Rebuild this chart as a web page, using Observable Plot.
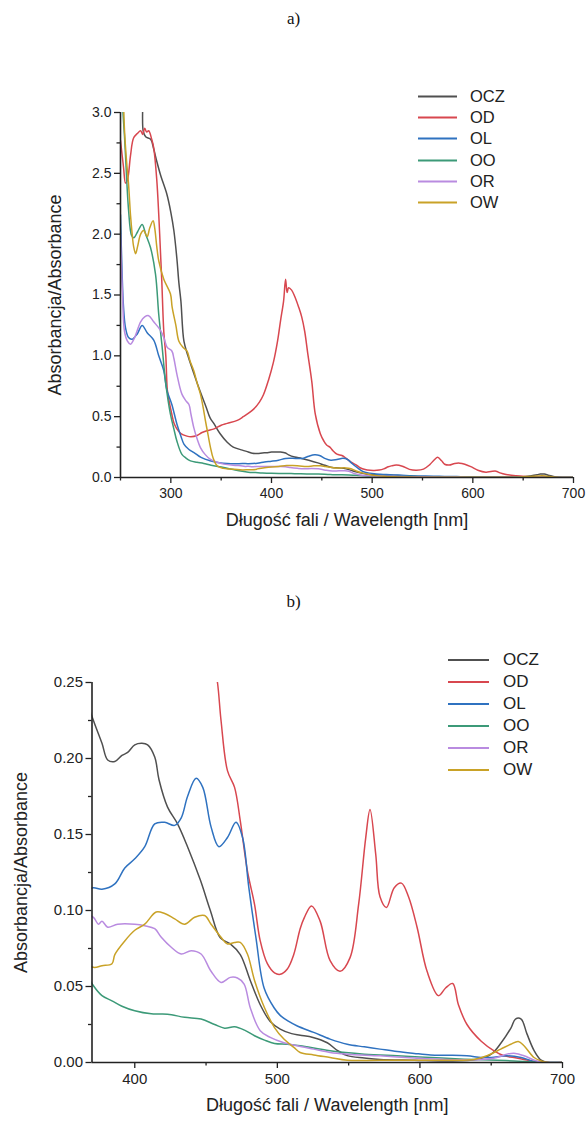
<!DOCTYPE html>
<html>
<head>
<meta charset="utf-8">
<script src="https://cdn.jsdelivr.net/npm/d3@7"></script>
<script src="https://cdn.jsdelivr.net/npm/@observablehq/plot@0.6"></script>
<style>
  html, body { margin: 0; padding: 0; background: #fff; }
  #wrap { position: relative; width: 587px; height: 1129px; overflow: hidden; font-family: "Liberation Sans", Arial, sans-serif; color: #222; }
  .panel { position: absolute; left: 0; }
  .ptitle { position: absolute; left: 0; width: 587px; text-align: center; font-family: "Liberation Serif", "Times New Roman", serif; font-size: 17px; color: #111; }
  .legend { position: absolute; }
  .legend .row { display: flex; align-items: center; position: absolute; left: 0; white-space: nowrap; }
  .legend svg { display: block; }
</style>
</head>
<body>
<div id="wrap"></div>
<script>
// ---------------- DATA ----------------
const seriesNames = ["OCZ", "OD", "OL", "OO", "OR", "OW"];
const seriesColors = ["#505050", "#d8474f", "#2f72c0", "#3c9a78", "#b98be0", "#c9a227"];

const wlOCZ = [250, 265, 271, 272.5, 275, 280, 283, 286, 290, 296, 300, 303, 306, 308, 310, 313, 317, 321, 329, 335, 339, 343, 349, 356, 362, 371, 377, 381, 386, 391, 395, 400, 405, 409, 414, 417, 423, 430, 437, 446, 453, 460, 467, 474, 481, 488, 495, 502, 510, 516, 525, 535, 542, 549, 561, 572, 596, 619, 640, 650, 657, 664, 667, 671, 675, 680, 685, 690, 700];
const absOCZ = [3.4, 3.4, 3.3, 2.85, 2.8, 2.78, 2.7, 2.6, 2.48, 2.33, 2.18, 2.03, 1.8, 1.6, 1.45, 1.12, 1.0, 0.9, 0.71, 0.58, 0.49, 0.44, 0.36, 0.29, 0.25, 0.225, 0.21, 0.199, 0.198, 0.202, 0.204, 0.209, 0.21, 0.209, 0.201, 0.186, 0.168, 0.157, 0.142, 0.12, 0.1, 0.082, 0.078, 0.071, 0.054, 0.038, 0.027, 0.022, 0.019, 0.018, 0.0165, 0.013, 0.008, 0.0045, 0.003, 0.002, 0.0015, 0.001, 0.002, 0.0055, 0.013, 0.023, 0.0286, 0.0286, 0.019, 0.008, 0.0015, 0, 0];

const wlOD = [250, 253, 255, 257, 260, 263, 267, 270, 272, 274, 276, 278, 281, 283, 286, 288, 290, 291, 293, 295, 296.5, 298, 301, 303, 306, 310, 316, 320, 326, 331, 336, 343, 350, 356, 366, 372, 382, 388, 392, 397, 402, 406, 409, 412, 414, 415.5, 417, 420, 423, 427, 430, 433, 436, 440, 443.5, 448.5, 452, 455, 458, 460.5, 465, 470, 474, 479, 484, 488, 493, 498, 502, 507, 511.5, 516, 519, 524, 530, 537, 544, 551, 557, 562, 565, 569, 572, 576.5, 582, 587, 592, 598, 605, 613, 618, 623, 627, 633, 643, 652, 659, 666, 678, 690, 700];
const absOD = [2.77, 2.55, 2.42, 2.45, 2.65, 2.79, 2.83, 2.85, 2.82, 2.87, 2.84, 2.85, 2.78, 2.71, 2.45, 2.16, 1.8, 1.62, 1.2, 1.0, 0.72, 0.64, 0.52, 0.45, 0.4, 0.36, 0.34, 0.335, 0.345, 0.37, 0.385, 0.4, 0.43, 0.445, 0.47, 0.5, 0.56, 0.62, 0.68, 0.8, 0.95, 1.12, 1.29, 1.45, 1.63, 1.52, 1.56, 1.54, 1.49, 1.4, 1.32, 1.2, 1.02, 0.79, 0.52, 0.36, 0.3, 0.265, 0.25, 0.225, 0.192, 0.181, 0.159, 0.126, 0.104, 0.08, 0.065, 0.059, 0.058, 0.0615, 0.071, 0.088, 0.0955, 0.103, 0.093, 0.067, 0.06, 0.069, 0.104, 0.148, 0.1665, 0.137, 0.109, 0.102, 0.115, 0.118, 0.109, 0.089, 0.06, 0.044, 0.049, 0.052, 0.038, 0.025, 0.014, 0.0077, 0.0044, 0.0033, 0.001, 0, 0];

const wlOL = [250, 251.5, 253, 255, 258, 261.6, 266.6, 271.5, 276.5, 283, 288, 293, 296, 301, 306, 310, 313, 318, 323, 330, 339, 348, 356, 364, 371, 377, 386, 393, 400, 407, 414, 421, 428, 432.6, 437, 443, 447.7, 453.5, 459, 465, 471, 475.6, 480, 485, 490.7, 497.7, 502, 508, 514, 525.5, 537, 549, 561, 572, 584, 596, 607.5, 619, 633, 643, 650, 661, 671, 680, 690, 700];
const absOL = [2.16, 1.7, 1.4, 1.23, 1.15, 1.137, 1.18, 1.25, 1.19, 1.13, 1.0, 0.877, 0.72, 0.6, 0.44, 0.34, 0.275, 0.23, 0.205, 0.165, 0.137, 0.122, 0.115, 0.113, 0.115, 0.114, 0.1175, 0.128, 0.134, 0.142, 0.157, 0.158, 0.156, 0.161, 0.175, 0.187, 0.181, 0.155, 0.142, 0.148, 0.158, 0.148, 0.115, 0.082, 0.049, 0.036, 0.031, 0.027, 0.024, 0.0198, 0.0154, 0.012, 0.0103, 0.0088, 0.0072, 0.006, 0.005, 0.0048, 0.0044, 0.0033, 0.0033, 0.0044, 0.0033, 0.0007, 0, 0];

const wlOO = [250, 254, 258, 261, 263.2, 267, 271.5, 275, 279.8, 284.8, 288, 291.4, 294.7, 299.6, 303, 306, 311, 315, 319.5, 326, 332.7, 340, 352.6, 362, 371, 377, 384, 391, 400, 411.6, 423, 435, 446.5, 456, 463, 470, 477, 484, 491, 498, 507, 516, 537, 561, 584, 607.5, 631, 654, 666, 690, 700];
const absOO = [3.3, 2.8, 2.2, 1.99, 1.97, 2.02, 2.08, 2.0, 1.89, 1.67, 1.34, 1.07, 0.79, 0.52, 0.4, 0.3, 0.19, 0.16, 0.137, 0.125, 0.115, 0.1, 0.082, 0.065, 0.0505, 0.044, 0.0406, 0.037, 0.034, 0.032, 0.0318, 0.0297, 0.0286, 0.025, 0.0226, 0.0235, 0.0213, 0.0176, 0.0147, 0.0125, 0.012, 0.011, 0.0077, 0.0055, 0.0044, 0.0033, 0.0022, 0.0015, 0.001, 0, 0];

const wlOR = [250, 252, 254, 257, 260, 264, 270, 274, 278, 283, 289.7, 293, 296.4, 301, 303, 306, 311, 315, 318, 320, 322.8, 326, 329.4, 334, 339, 346, 352.6, 362, 371, 374.5, 377, 381, 388, 400, 407, 414, 418.6, 425.6, 432.6, 439.5, 446.5, 453.5, 460.5, 467, 472, 476.7, 481, 488, 495, 504.6, 514, 525.5, 537, 549, 572, 596, 619, 643, 654, 661, 667, 673, 682, 690, 700];
const absOR = [2.0, 1.5, 1.2, 1.12, 1.096, 1.15, 1.28, 1.32, 1.33, 1.28, 1.21, 1.15, 1.07, 1.04, 0.98, 0.85, 0.685, 0.63, 0.6, 0.52, 0.41, 0.32, 0.246, 0.19, 0.151, 0.125, 0.11, 0.1, 0.0955, 0.091, 0.093, 0.089, 0.091, 0.091, 0.09, 0.088, 0.0824, 0.0758, 0.0714, 0.0736, 0.0714, 0.06, 0.0527, 0.056, 0.0556, 0.0516, 0.036, 0.0209, 0.0165, 0.013, 0.011, 0.0088, 0.0066, 0.0055, 0.0044, 0.003, 0.002, 0.002, 0.0033, 0.0055, 0.006, 0.0044, 0.001, 0, 0];

const wlOW = [250, 252, 254, 256, 258, 260, 261.6, 263, 265, 267, 270, 273, 276.5, 279, 282.4, 284, 286, 288, 293, 299.6, 301.3, 305, 308, 312, 316, 319, 322.8, 326, 329.4, 332, 334.4, 337, 339.4, 342, 346, 352, 359, 371, 377, 384, 386, 393, 400, 407, 415, 421, 428, 435, 442, 449, 453.5, 460.5, 465, 470, 474, 479, 484, 491, 498, 504.6, 511.6, 516, 525.5, 537, 549, 572, 619, 638, 647, 656.7, 663.7, 669, 673, 680, 685, 690, 700];
const absOW = [3.5, 3.3, 2.85, 2.6, 2.41, 2.15, 2.0, 1.9, 1.84, 1.9, 2.0, 2.03, 1.98, 2.05, 2.11, 2.05, 1.9, 1.78, 1.63, 1.51, 1.4, 1.25, 1.12, 1.07, 1.04, 0.96, 0.877, 0.78, 0.685, 0.58, 0.466, 0.35, 0.246, 0.16, 0.096, 0.075, 0.069, 0.0626, 0.0637, 0.065, 0.071, 0.08, 0.087, 0.091, 0.099, 0.098, 0.0945, 0.091, 0.0956, 0.0967, 0.091, 0.0824, 0.078, 0.079, 0.079, 0.0714, 0.054, 0.036, 0.023, 0.0154, 0.0099, 0.0066, 0.005, 0.0033, 0.0015, 0.0015, 0.0015, 0.002, 0.0044, 0.0088, 0.012, 0.0138, 0.011, 0.0033, 0.001, 0, 0];

// axes / tick labels
const xDomainA = [250, 700];
const yDomainA = [0, 3];
const xMajorA = [300, 400, 500, 600, 700];
const xMinorA = [250, 350, 450, 550, 650];
const yMajorA = [0, 0.5, 1.0, 1.5, 2.0, 2.5, 3.0];
const yMinorA = [0.25, 0.75, 1.25, 1.75, 2.25, 2.75];

const xDomainB = [370, 700];
const yDomainB = [0, 0.25];
const xMajorB = [400, 500, 600, 700];
const xMinorB = [450, 550, 650];
const yMajorB = [0, 0.05, 0.10, 0.15, 0.20, 0.25];
const yMinorB = [0.025, 0.075, 0.125, 0.175, 0.225];

const xTitle = "Długość fali / Wavelength [nm]";
const yTitle = "Absorbancja/Absorbance";
const panelTitles = ["a)", "b)"];

// ---------------- BUILD ----------------
const seriesData = {
  OCZ: [wlOCZ, absOCZ], OD: [wlOD, absOD], OL: [wlOL, absOL],
  OO: [wlOO, absOO], OR: [wlOR, absOR], OW: [wlOW, absOW]
};
const rows = seriesNames.flatMap(name => {
  const [wl, ab] = seriesData[name];
  return wl.map((w, i) => ({ series: name, wl: w, abs: ab[i] }));
});

const FONT = "Liberation Sans, Arial, sans-serif";

function makePanel(o) {
  return Plot.plot({
    width: 587,
    height: o.height,
    marginLeft: o.ml, marginRight: o.mr, marginTop: o.mt, marginBottom: o.mb,
    x: { domain: o.xDomain },
    y: { domain: o.yDomain },
    color: { domain: seriesNames, range: seriesColors },
    style: { fontFamily: FONT, fontSize: o.tickFont + "px", color: "#222", background: "transparent", overflow: "visible" },
    marks: [
      Plot.line(rows, { x: "wl", y: "abs", z: "series", stroke: "series", strokeWidth: 1.5, curve: "catmull-rom", clip: true }),
      Plot.axisX({ ticks: o.xMajor, tickSize: 6, tickPadding: 5, tickFormat: d3.format("d"), label: null, fontSize: o.tickFont, strokeWidth: 1.3 }),
      Plot.axisX({ ticks: o.xMinor, tickSize: 3.5, text: null, label: null, strokeWidth: 1.3 }),
      Plot.axisY({ ticks: o.yMajor, tickSize: 6, tickPadding: 3, tickFormat: d3.format(o.yFmt), label: null, fontSize: o.tickFont, strokeWidth: 1.3 }),
      Plot.axisY({ ticks: o.yMinor, tickSize: 3.5, text: null, label: null, strokeWidth: 1.3 }),
      Plot.ruleX([o.xDomain[0]], { stroke: "#222", strokeWidth: 1.6 }),
      Plot.ruleY([o.yDomain[0]], { stroke: "#222", strokeWidth: 1.6 }),
      Plot.text([xTitle], { text: d => d, frameAnchor: "bottom", textAnchor: "middle", dy: o.xTitleDy, fontSize: o.titleFont, fill: "#222" }),
      Plot.text([yTitle], { text: d => d, frameAnchor: "left", textAnchor: "middle", dx: o.yTitleDx, rotate: -90, fontSize: o.titleFont, fill: "#222" })
    ]
  });
}

function makeLegend(o) {
  const lg = document.createElement("div");
  lg.className = "legend";
  lg.style.left = o.left + "px";
  lg.style.top = o.top + "px";
  seriesNames.forEach((name, i) => {
    const row = document.createElement("div");
    row.className = "row";
    row.style.top = (i * o.step) + "px";
    row.style.height = o.step + "px";
    row.innerHTML = `<svg width="${o.lineW}" height="${o.step}"><line x1="0" x2="${o.lineW}" y1="${o.step / 2}" y2="${o.step / 2}" stroke="${seriesColors[i]}" stroke-width="2"/></svg>` +
      `<span style="margin-left:${o.gap}px;font-size:${o.font}px;color:#222;line-height:${o.step}px">${name}</span>`;
    lg.appendChild(row);
  });
  return lg;
}

const wrap = document.getElementById("wrap");

// Panel a
const tA = document.createElement("div");
tA.className = "ptitle"; tA.style.top = "9px"; tA.textContent = panelTitles[0];
wrap.appendChild(tA);
const pA = document.createElement("div");
pA.className = "panel"; pA.style.top = "0px";
pA.appendChild(makePanel({
  height: 550, ml: 120, mr: 14, mt: 112, mb: 73,
  xDomain: xDomainA, yDomain: yDomainA, xMajor: xMajorA, xMinor: xMinorA,
  yMajor: yMajorA, yMinor: yMinorA, yFmt: ".1f",
  tickFont: 14, titleFont: 18, xTitleDy: 48, yTitleDx: -65
}));
wrap.appendChild(pA);
wrap.appendChild(makeLegend({ left: 418, top: 86, step: 21.2, lineW: 39, gap: 13, font: 16.5 }));

// Panel b
const tB = document.createElement("div");
tB.className = "ptitle"; tB.style.top = "592px"; tB.textContent = panelTitles[1];
wrap.appendChild(tB);
const pB = document.createElement("div");
pB.className = "panel"; pB.style.top = "590px";
pB.appendChild(makePanel({
  height: 539, ml: 91.5, mr: 25, mt: 92, mb: 67,
  xDomain: xDomainB, yDomain: yDomainB, xMajor: xMajorB, xMinor: xMinorB,
  yMajor: yMajorB, yMinor: yMinorB, yFmt: ".2f",
  tickFont: 15, titleFont: 18, xTitleDy: 48, yTitleDx: -71
}));
wrap.appendChild(pB);
wrap.appendChild(makeLegend({ left: 448, top: 649, step: 22, lineW: 41, gap: 14, font: 17 }));
</script>
</body>
</html>
